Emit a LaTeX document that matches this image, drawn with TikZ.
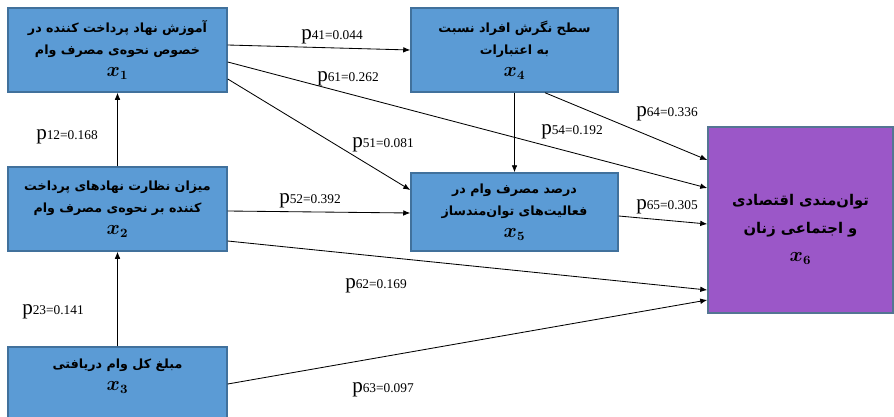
\documentclass[tikz,border=0pt]{standalone}
\usepackage{fontspec}
\usepackage{bm}
\usetikzlibrary{arrows.meta}
\newfontfamily\farsi[Script=Arabic]{DejaVu Sans}
\newfontfamily\coeffont{Liberation Serif}
\TeXXeTstate=1
\definecolor{boxblue}{HTML}{5B9BD5}
\definecolor{edgeblue}{HTML}{41719C}
\definecolor{boxpurple}{HTML}{9B57C8}
\newcommand{\fa}[1]{\beginR #1\endR}
\newcommand{\xv}[1]{{\fontsize{13.5}{15}\selectfont$\bm{x_{#1}}$}}
\newcommand{\pval}[2]{{\fontsize{15}{15}\selectfont p}{\fontsize{9.5}{9.5}\selectfont #1=#2}}

\tikzset{
  var/.style={draw=edgeblue, line width=1pt, fill=boxblue, align=center, inner sep=0pt,
    font=\farsi\bfseries\fontsize{9}{15.5}\selectfont},
  coef/.style={-{Latex[length=5pt,width=4pt]}, line width=0.6pt},
  lbl/.style={inner sep=0pt, font=\coeffont}
}

\begin{document}
\begin{tikzpicture}[x=0.025cm, y=-0.025cm]
\useasboundingbox (0,0) rectangle (894,416);
% Variables
\node[var, minimum width=5.475cm, minimum height=2.1cm] (x1) at (117.5,50)
  {\fa{آموزش نهاد پرداخت کننده در}\\ \fa{خصوص نحوه‌ی مصرف وام}\\ \xv{1}};
\node[var, minimum width=5.475cm, minimum height=2.1cm] (x2) at (117.5,209)
  {\fa{میزان نظارت نهادهای پرداخت}\\ \fa{کننده بر نحوه‌ی مصرف وام}\\ \xv{2}};
\node[var, minimum width=5.475cm, minimum height=2.1cm, text depth=0.73cm] (x3) at (117.5,389)
  {\fa{مبلغ کل وام دریافتی}\\ \xv{3}};
\node[var, minimum width=5.175cm, minimum height=2.1cm] (x4) at (514.5,50)
  {\fa{سطح نگرش افراد  نسبت}\\ \fa{به اعتبارات}\\ \xv{4}};
\node[var, minimum width=5.175cm, minimum height=1.95cm] (x5) at (514.5,212)
  {\fa{درصد مصرف وام در}\\ \fa{فعالیت‌های توان‌مندساز}\\ \xv{5}};
\node[var, fill=boxpurple, draw=edgeblue!70!gray, minimum width=4.625cm, minimum height=4.65cm,
  text height=61pt, font=\farsi\bfseries\fontsize{10.5}{20}\selectfont] (x6) at (800.5,220)
  {\fa{توان‌مندی اقتصادی}\\ \fa{و اجتماعی زنان}\\ \xv{6}};
% Paths
\draw[coef] (x2.north) -- (x1.south);
\draw[coef] (x3.north) -- (x2.south);
\draw[coef] (x1.east |- 0,45) -- (x4.west |- 0,50);
\draw[coef] (x1.east |- 0,62) -- (x6.west |- 0,188);
\draw[coef] (x1.east |- 0,79) -- (x5.west |- 0,190);
\draw[coef] (x2.east |- 0,211) -- (x5.west |- 0,213);
\draw[coef] (x2.east |- 0,241) -- (x6.west |- 0,290);
\draw[coef] (x3.east |- 0,384) -- (x6.west |- 0,300);
\draw[coef] (x4.south) -- (x5.north);
\draw[coef] (x4.south -| 545,0) -- (x6.west |- 0,160);
\draw[coef] (x5.east |- 0,216) -- (x6.west |- 0,224);
% Coefficients
\node[lbl] (p12) at (67,137) {\pval{12}{0.168}};
\node[lbl] (p23) at (53,312) {\pval{23}{0.141}};
\node[lbl] (p41) at (332,37) {\pval{41}{0.044}};
\node[lbl] (p61) at (348,79) {\pval{61}{0.262}};
\node[lbl] (p51) at (383,145) {\pval{51}{0.081}};
\node[lbl] (p54) at (572,132) {\pval{54}{0.192}};
\node[lbl] (p64) at (667,114) {\pval{64}{0.336}};
\node[lbl] (p65) at (667,207) {\pval{65}{0.305}};
\node[lbl] (p52) at (310,201) {\pval{52}{0.392}};
\node[lbl] (p62) at (376,286) {\pval{62}{0.169}};
\node[lbl] (p63) at (383,390) {\pval{63}{0.097}};
\end{tikzpicture}
\end{document}
